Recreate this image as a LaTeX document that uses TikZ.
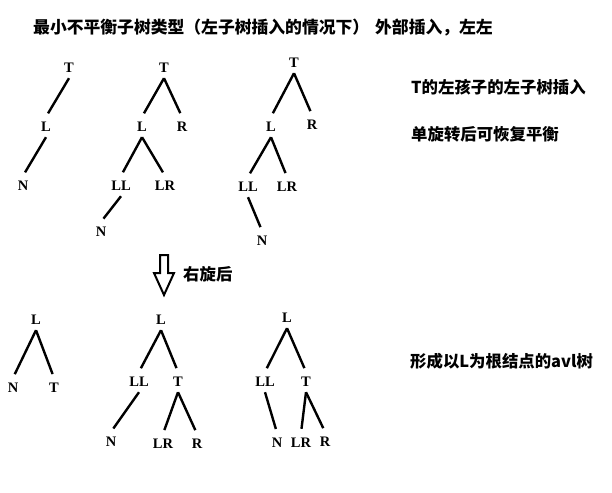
\documentclass[tikz,border=0pt]{standalone}
\usepackage{fontspec}
\setmainfont{Liberation Serif}
\newfontfamily\cjk{Noto Sans CJK SC}
\begin{document}
\begin{tikzpicture}[x=1pt,y=-1pt,
  key/.style={font=\bfseries\fontsize{14.5}{14.5}\selectfont,minimum height=20pt,inner sep=1pt},
  branch/.style={line width=2.4pt,shorten >=4pt},
  note/.style={anchor=west,inner sep=0pt,font=\cjk\bfseries\fontsize{16.4}{18}\selectfont}]
\useasboundingbox (0,0) rectangle (612,492);
\node[note,font=\cjk\bfseries\fontsize{16.8}{19}\selectfont] at (33,28) (title) {最小不平衡子树类型（左子树插入的情况下）\hspace{6pt}外部插入，左左};
\node[note] at (411,87) (case) {T的左孩子的左子树插入};
\node[note] at (411,134) (fix) {单旋转后可恢复平衡};
\node[note] at (183,274) (rot) {右旋后};
\node[note] at (410,361) (result) {形成以L为根结点的avl树};
\node[key] at (69,68) (t1) {T}; \node[key] at (46,127) (l1) {L}; \node[key] at (23,186) (n1) {N};
\draw[branch] (t1.south) -- (l1.north); \draw[branch] (l1.south) -- (n1.north);
\node[key] at (164,68) (t2) {T}; \node[key] at (142,127) (l2) {L}; \node[key] at (182,127) (r2) {R};
\node[key] at (121,186) (ll2) {LL}; \node[key] at (165,186) (lr2) {LR}; \node[key] at (101,232) (n2) {N};
\draw[branch] (t2.south) -- (l2.north); \draw[branch] (t2.south) -- (r2.north);
\draw[branch] (l2.south) -- (ll2.north); \draw[branch] (l2.south) -- (lr2.north);
\draw[branch] (ll2.south) -- (n2.north);
\node[key] at (294,63) (t3) {T}; \node[key] at (271,127) (l3) {L}; \node[key] at (312,125) (r3) {R};
\node[key] at (248,187) (ll3) {LL}; \node[key] at (287,187) (lr3) {LR}; \node[key] at (262,241) (n3) {N};
\draw[branch] (t3.south) -- (l3.north); \draw[branch] (t3.south) -- (r3.north);
\draw[branch] (l3.south) -- (ll3.north); \draw[branch] (l3.south) -- (lr3.north);
\draw[branch] (ll3.south) -- (n3.north);
\draw[line width=2pt,line join=miter] (160,255) -- (168,255) -- (168,273) -- (174,273) -- (164,295) -- (154,273) -- (160,273) -- cycle;
\node[key] at (36,320) (l4) {L}; \node[key] at (13,388) (n4) {N}; \node[key] at (54,388) (t4) {T};
\draw[branch] (l4.south) -- (n4.north); \draw[branch] (l4.south) -- (t4.north);
\node[key] at (161,320) (l5) {L}; \node[key] at (139,382) (ll5) {LL}; \node[key] at (178,382) (t5) {T};
\node[key] at (111,442) (n5) {N}; \node[key] at (163,444) (lr5) {LR}; \node[key] at (197,444) (r5) {R};
\draw[branch] (l5.south) -- (ll5.north); \draw[branch] (l5.south) -- (t5.north);
\draw[branch] (ll5.south) -- (n5.north);
\draw[branch] (t5.south) -- (lr5.north); \draw[branch] (t5.south) -- (r5.north);
\node[key] at (287,318) (l6) {L}; \node[key] at (265,382) (ll6) {LL}; \node[key] at (306,382) (t6) {T};
\node[key] at (277,443) (n6) {N}; \node[key] at (301,443) (lr6) {LR}; \node[key] at (325,442) (r6) {R};
\draw[branch] (l6.south) -- (ll6.north); \draw[branch] (l6.south) -- (t6.north);
\draw[branch] (ll6.south) -- (n6.north);
\draw[branch] (t6.south) -- (lr6.north); \draw[branch] (t6.south) -- (r6.north);
\end{tikzpicture}
\end{document}
